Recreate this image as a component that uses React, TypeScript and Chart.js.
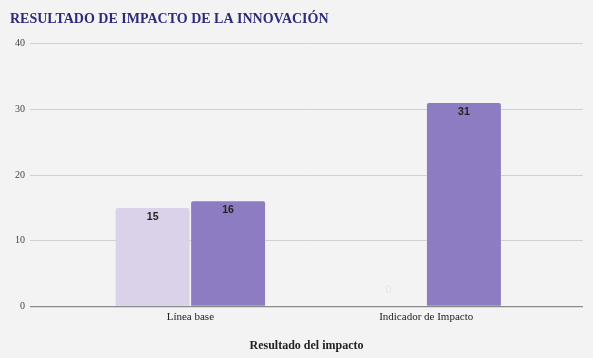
import React, { useEffect, useRef } from "react";
import { Chart, registerables } from "chart.js";

Chart.register(...registerables);

const categories = ["Línea base", "Indicador de Impacto"];
const seriesA = [15, 0];
const seriesB = [16, 31];
const yTicks = [0, 10, 20, 30, 40];

const labelPlugin = {
  id: "barLabels",
  afterDatasetsDraw(chart: any) {
    const ctx = chart.ctx;
    ctx.save();
    chart.data.datasets.forEach((ds: any, di: number) => {
      const meta = chart.getDatasetMeta(di);
      meta.data.forEach((bar: any, i: number) => {
        const v = ds.data[i].y;
        ctx.textAlign = "center";
        ctx.textBaseline = "middle";
        if (v === 0) {
          ctx.font = "10px 'Liberation Sans', Arial, sans-serif";
          ctx.fillStyle = "#e4e4e4";
          ctx.fillText(String(v), bar.x, bar.base - 16);
        } else {
          ctx.font = "bold 10.5px 'Liberation Sans', Arial, sans-serif";
          ctx.fillStyle = "#222222";
          ctx.fillText(String(v), bar.x, bar.y + 9);
        }
      });
    });
    ctx.restore();
  },
};

export default function App() {
  const ref = useRef<HTMLCanvasElement>(null);
  useEffect(() => {
    const chart = new Chart(ref.current as HTMLCanvasElement, {
      type: "bar",
      data: {
        datasets: [
          {
            label: "A",
            data: seriesA.map((v, i) => ({ x: i, y: v })),
            backgroundColor: "#d9d2e9",
            barPercentage: 0.98,
            categoryPercentage: 0.64,
            borderRadius: { topLeft: 2, topRight: 2 },
          },
          {
            label: "B",
            data: seriesB.map((v, i) => ({ x: i, y: v })),
            backgroundColor: "#8e7cc3",
            barPercentage: 0.98,
            categoryPercentage: 0.64,
            borderRadius: { topLeft: 2, topRight: 2 },
          },
        ],
      },
      options: {
        animation: false,
        responsive: false,
        layout: { padding: { left: 10, right: 10, top: 0, bottom: 5 } },
        plugins: {
          legend: { display: false },
          tooltip: { enabled: false },
          title: {
            display: true,
            text: "RESULTADO DE IMPACTO DE LA INNOVACIÓN",
            align: "start",
            color: "#2e2a7c",
            font: { family: "'Liberation Serif', 'Times New Roman', serif", size: 14, weight: "bold" },
            padding: { top: 11, bottom: 16 },
          },
        },
        scales: {
          x: {
            type: "linear",
            offset: false,
            min: -0.68,
            max: 1.665,
            afterBuildTicks: (s: any) => {
              s.ticks = categories.map((_, i) => ({ value: i }));
            },
            ticks: {
              callback: (_v: any, i: number) => categories[i],
              color: "#222",
              font: { family: "'Liberation Serif', 'Times New Roman', serif", size: 11 },
              padding: 4,
              maxRotation: 0,
            },
            grid: { display: false, drawTicks: false, offset: false },
            border: { display: false },
            title: {
              display: true,
              text: "Resultado del impacto",
              color: "#222",
              font: { family: "'Liberation Serif', 'Times New Roman', serif", size: 12, weight: "bold" },
              padding: { top: 11, bottom: 0 },
            },
          },
          y: {
            min: 0,
            max: 40,
            afterBuildTicks: (s: any) => {
              s.ticks = yTicks.map((v) => ({ value: v }));
            },
            ticks: {
              color: "#444",
              font: { family: "'Liberation Serif', 'Times New Roman', serif", size: 10 },
              padding: 5,
            },
            grid: {
              drawTicks: false,
              color: (c: any) => (c.tick && c.tick.value === 0 ? "#8a8a8a" : "#d0d0d0"),
              lineWidth: (c: any) => (c.tick && c.tick.value === 0 ? 1.2 : 1),
            },
            border: { display: false },
          },
        },
      },
      plugins: [labelPlugin],
    } as any);
    return () => chart.destroy();
  }, []);
  return (
    <div style={{ position: "fixed", left: 0, top: 0, width: 593, height: 358, background: "#f3f3f3" }}>
      <canvas ref={ref} width={593} height={358} style={{ display: "block" }} />
    </div>
  );
}
